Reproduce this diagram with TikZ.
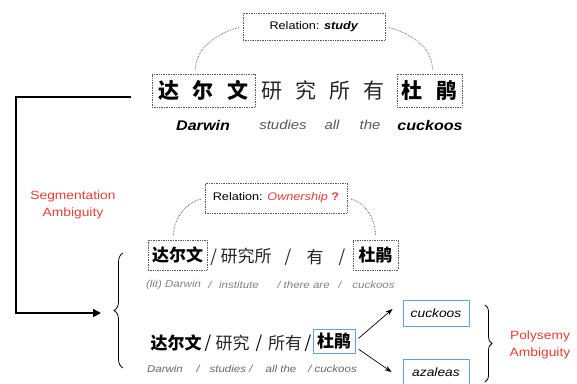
\documentclass[tikz,border=0pt]{standalone}
\usepackage{fontspec}
\setmainfont[FakeStretch=1.15]{Liberation Sans}
\newfontfamily\cjk{Noto Sans CJK SC}
\usetikzlibrary{arrows.meta, decorations.pathreplacing}
\definecolor{ambred}{RGB}{228,62,52}
\definecolor{boxblue}{RGB}{95,160,235}

\begin{document}
\begin{tikzpicture}[
  x=1pt, y=-1pt,
  every node/.style={inner sep=0pt, align=center},
  dotbox/.style={draw=black!65, densely dotted, line width=0.7pt},
  bluebox/.style={draw=boxblue, line width=0.9pt},
  relfont/.style={font=\fontsize{11}{13}\selectfont},
  bigzh/.style={font=\cjk\fontsize{21}{21}\selectfont},
  midzh/.style={font=\cjk\fontsize{17}{17}\selectfont},
  gloss/.style={font=\fontsize{10}{12}\selectfont\itshape, text=black!60},
  redtxt/.style={font=\fontsize{12}{17}\selectfont, text=ambred},
  arc/.style={densely dotted, draw=black!70, line width=0.7pt, shorten <=4pt, shorten >=4pt},
  ]
\useasboundingbox (0,0) rectangle (577,383);

% Sentence (top)
\node[dotbox, relfont, minimum width=142pt, minimum height=27pt] (relA) at (314,26.5) {Relation: \textit{\bfseries study}};
\node[dotbox, bigzh, minimum width=103pt, minimum height=33pt] (daA) at (203.5,90.5) {\bfseries 达\hspace{14pt}尔\hspace{14pt}文};
\node[bigzh, text=black!85] (yjA) at (322.5,90.5) {研\hspace{13pt}究\hspace{13pt}所\hspace{13pt}有};
\node[dotbox, bigzh, minimum width=65pt, minimum height=33pt] (duA) at (429.5,90.5) {\bfseries 杜\hspace{14pt}鹃};

\node[font=\fontsize{14}{14}\selectfont\bfseries\itshape] (enA1) at (203,125) {Darwin};
\node[font=\fontsize{13}{13}\selectfont\itshape, text=black!65] (enA2) at (283,125) {studies};
\node[font=\fontsize{13}{13}\selectfont\itshape, text=black!65] (enA3) at (332,125) {all};
\node[font=\fontsize{13}{13}\selectfont\itshape, text=black!65] (enA4) at (370,125) {the};
\node[font=\fontsize{14}{14}\selectfont\bfseries\itshape] (enA5) at (430,125) {cuckoos};

\draw[arc] (relA.west) to[out=195, in=90] ([xshift=-8pt]daA.north);
\draw[arc] (relA.east) to[out=-15, in=90] ([xshift=3pt]duA.north);

% Segmentation ambiguity
\coordinate (segstart) at (131,97);
\coordinate (segend) at (101,313);
\draw[line width=1.6pt, -{Triangle[length=8pt, width=8pt]}] (segstart) -| (16,313) -- (segend);
\node[redtxt] (segamb) at (73,205) {Segmentation\\Ambiguity};
\draw[line width=0.8pt, decorate, decoration={brace, amplitude=9pt}] (123,368) -- (123,253);

% Reading 1
\node[dotbox, relfont, minimum width=142pt, minimum height=30pt] (relB) at (276,198) {Relation: \textcolor{ambred}{\itshape Ownership} \textcolor{ambred}{\bfseries ?}};
\node[dotbox, midzh, minimum width=59pt, minimum height=30pt] (daB) at (177.5,255) {\bfseries 达尔文};
\node[midzh, text=black!85] (yjB) at (241,257) {/ 研究所};
\node[midzh, text=black!85] (slB1) at (288,257) {/};
\node[midzh, text=black!85] (youB) at (315,257) {有};
\node[midzh, text=black!85] (slB2) at (342,257) {/};
\node[dotbox, midzh, minimum width=45pt, minimum height=30pt] (duB) at (375.5,255) {\bfseries 杜鹃};

\node[gloss, text=black!50] (enB1) at (173.5,285) {(lit) Darwin};
\node[gloss, text=black!50] (enB2) at (210,285) {/};
\node[gloss, text=black!50] (enB3) at (239,285) {institute};
\node[gloss, text=black!50] (enB4) at (303.5,285) {/ there are};
\node[gloss, text=black!50] (enB5) at (340,285) {/};
\node[gloss, text=black!50] (enB6) at (373.5,285) {cuckoos};

\draw[arc] (relB.west) to[out=195, in=90] ([xshift=-4pt]daB.north);
\draw[arc] (relB.east) to[out=-15, in=90] (duB.north);

% Reading 2
\node[midzh] (daC) at (176,343) {\bfseries 达尔文};
\node[midzh] (slC1) at (208,343) {/};
\node[midzh, text=black!85] (yjC) at (232.5,343) {研究};
\node[midzh] (slC2) at (259,343) {/};
\node[midzh, text=black!85] (syC) at (285,343) {所有};
\node[midzh] (slC3) at (308,343) {/};
\node[bluebox, midzh, minimum width=42pt, minimum height=24pt] (duC) at (334,341) {\bfseries 杜鹃};

\node[gloss] (enC1) at (165,369) {Darwin};
\node[gloss] (enC2) at (198,369) {/};
\node[gloss] (enC3) at (231,369) {studies /};
\node[gloss] (enC4) at (281,369) {all the};
\node[gloss] (enC5) at (332.5,369) {/ cuckoos};

% Polysemy ambiguity
\node[bluebox, font=\fontsize{12}{12}\selectfont\itshape, minimum width=66pt, minimum height=26pt] (cuckoo) at (436,313) {cuckoos};
\node[bluebox, font=\fontsize{12}{12}\selectfont\itshape, minimum width=66pt, minimum height=26pt] (azalea) at (436,372) {azaleas};
\draw[line width=0.7pt, -{Stealth[length=7pt, width=5pt]}, shorten <=4pt] (duC.east) -- ([xshift=-10pt, yshift=4pt]cuckoo.west);
\draw[line width=0.7pt, -{Stealth[length=7pt, width=5pt]}, shorten <=4pt] ([yshift=-6pt]duC.east) -- ([xshift=-11pt]azalea.west);
\draw[line width=0.8pt, decorate, decoration={brace, amplitude=7pt}] (485,305) -- (485,382);
\node[redtxt] (polyamb) at (540,345) {Polysemy\\Ambiguity};

\end{tikzpicture}
\end{document}
